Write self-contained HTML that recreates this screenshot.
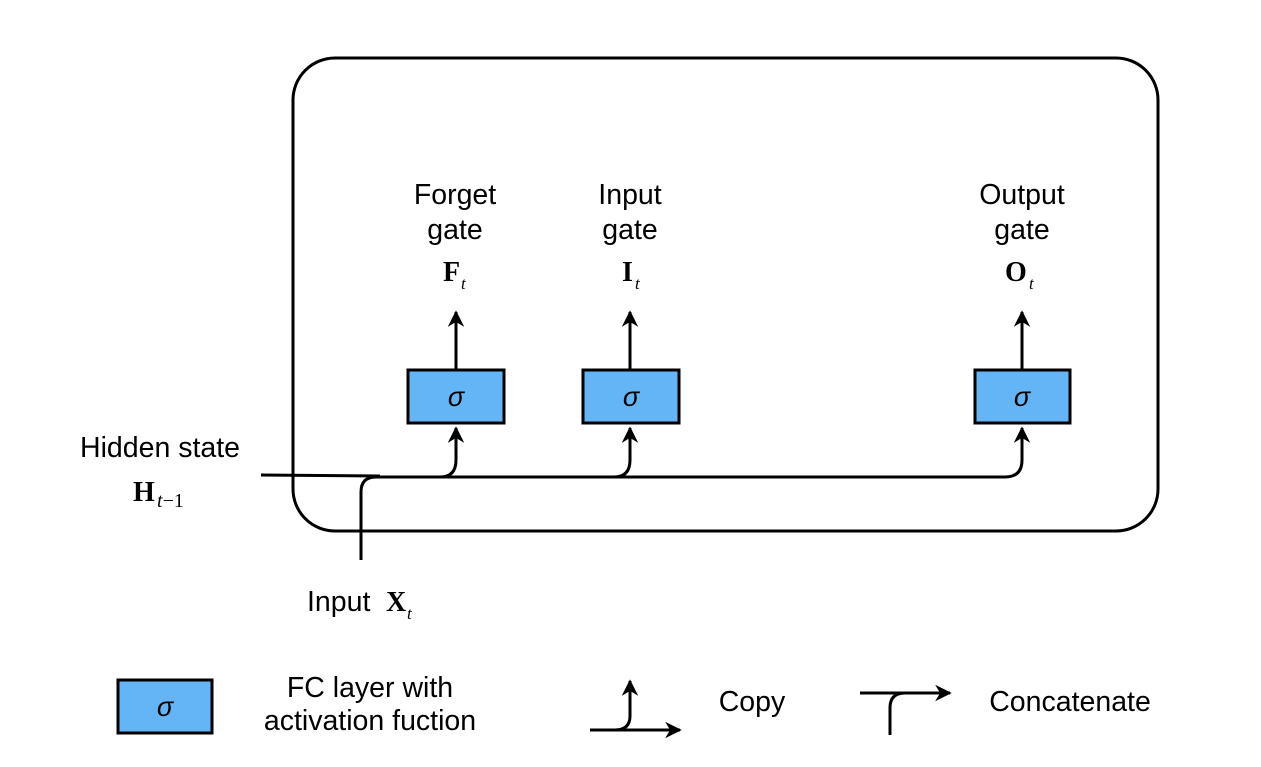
<!DOCTYPE html>
<html><head><meta charset="utf-8"><style>
html,body{margin:0;padding:0;background:#fff;}
svg{display:block;}
text{font-family:"Liberation Sans",sans-serif;fill:#000;}
.m{font-family:"Liberation Serif",serif;}
</style></head><body>
<svg width="1261" height="767" viewBox="0 0 1261 767" xmlns="http://www.w3.org/2000/svg">
<defs>
<marker id="a" viewBox="0 0 10 10" refX="9" refY="5" markerWidth="5.5" markerHeight="5.5" orient="auto">
<path d="M0,0 L10,5 L0,10 L3,5 z" fill="#000"/></marker>
</defs>
<g fill="none" stroke="#000" stroke-width="3">
<rect x="293" y="58" width="865" height="473" rx="42"/>
<path d="M261,475 L380,476"/>
<path d="M361,560 L361,492 Q361,477 376,477 L1005,477 Q1022,477 1022,460 L1022,428" marker-end="url(#a)"/>
<path d="M440,477 Q456,477 456,460 L456,428" marker-end="url(#a)"/>
<path d="M614,477 Q630,477 630,460 L630,428" marker-end="url(#a)"/>
<path d="M456,370 L456,312" marker-end="url(#a)"/>
<path d="M630,370 L630,312" marker-end="url(#a)"/>
<path d="M1022,370 L1022,312" marker-end="url(#a)"/>
</g>
<g fill="#64b5f6" stroke="#000" stroke-width="3">
<rect x="408" y="370" width="96" height="53"/>
<rect x="583" y="370" width="96" height="53"/>
<rect x="975" y="370" width="95" height="53"/>
<rect x="118" y="680" width="94" height="53"/>
</g>
<g font-size="27" text-anchor="middle" font-style="italic">
<text x="456" y="406">σ</text><text x="631" y="406">σ</text><text x="1022" y="406">σ</text><text x="165" y="716">σ</text>
</g>
<g font-size="28.5" text-anchor="middle">
<text x="455" y="204">Forget</text><text x="455" y="239">gate</text>
<text x="630" y="204">Input</text><text x="630" y="239">gate</text>
<text x="1022" y="204">Output</text><text x="1022" y="239">gate</text>
<text x="160" y="457">Hidden state</text>
<text x="370" y="697">FC layer with</text>
<text x="370" y="730">activation fuction</text>
<text x="752" y="711">Copy</text>
<text x="1070" y="711">Concatenate</text>
</g>
<g font-weight="bold" font-size="28">
<text x="443" y="281" class="m">F</text><text x="461" y="289" class="m" font-size="17" font-weight="normal" font-style="italic">t</text>
<text x="622" y="281" class="m">I</text><text x="635" y="289" class="m" font-size="17" font-weight="normal" font-style="italic">t</text>
<text x="1005" y="281" class="m">O</text><text x="1029" y="289" class="m" font-size="17" font-weight="normal" font-style="italic">t</text>
<text x="133" y="501" class="m">H</text><text x="157" y="507" class="m" font-size="20" font-weight="normal"><tspan font-style="italic">t</tspan>−1</text>
<text x="386" y="611" class="m">X</text><text x="407" y="619" class="m" font-size="17" font-weight="normal" font-style="italic">t</text>
</g>
<text x="307" y="611" font-size="28.5">Input</text>
<g fill="none" stroke="#000" stroke-width="3">
<path d="M590,730 L680,730" marker-end="url(#a)"/>
<path d="M615,730 Q630,730 630,716 L630,681" marker-end="url(#a)"/>
<path d="M860,693 L950,693" marker-end="url(#a)"/>
<path d="M890,735 L890,708 Q890,693 905,693"/>
</g>
</svg>
</body></html>
